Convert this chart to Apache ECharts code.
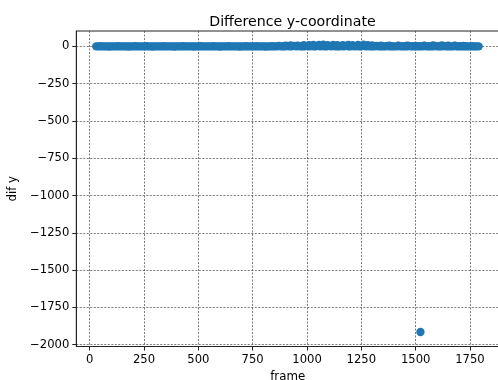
<!DOCTYPE html>
<html>
<head>
<meta charset="utf-8">
<script src="https://cdn.jsdelivr.net/npm/echarts@6/dist/echarts.min.js"></script>
<style>
html,body{margin:0;padding:0;background:#fff;}
#chart{width:498px;height:380px;}
</style>
</head>
<body>
<div id="chart"></div>
<script>
const frames = [
  30,40,50,60,70,80,90,100,110,120,130,140,150,160,170,180,190,200,210,220,
  230,240,250,260,270,280,290,300,310,320,330,340,350,360,370,380,390,400,410,420,
  430,440,450,460,470,480,490,500,510,520,530,540,550,560,570,580,590,600,610,620,
  630,640,650,660,670,680,690,700,710,720,730,740,750,760,770,780,790,800,810,820,
  830,840,850,860,870,880,890,900,910,920,930,940,950,960,970,980,990,1000,1010,1020,
  1030,1040,1050,1060,1070,1080,1090,1100,1110,1120,1130,1140,1150,1160,1170,1180,1190,1200,1210,1220,
  1230,1240,1250,1260,1270,1280,1290,1300,1310,1320,1330,1340,1350,1360,1370,1380,1390,1400,1410,1420,
  1430,1440,1450,1460,1470,1480,1490,1500,1510,1520,1522,1530,1540,1550,1560,1570,1580,1590,1600,1610,1620,
  1630,1640,1650,1660,1670,1680,1690,1700,1710,1720,1730,1740,1750,1760,1770,1780,1790
];
const difY = [
  0,0,1,0,0,0,-1,0,0,0,1,0,0,0,0,-1,0,0,1,0,
  0,0,0,1,0,0,-1,0,0,0,0,1,0,0,0,0,-1,0,0,0,
  1,0,0,0,0,-1,0,0,1,0,0,0,0,0,1,0,0,-1,0,0,
  0,1,0,0,0,0,-1,0,0,1,0,0,0,0,1,0,0,0,-1,0,
  0,1,0,0,2,0,1,0,2,0,1,3,0,2,0,1,0,3,0,2,
  1,0,3,0,2,0,1,3,0,2,0,1,0,2,0,3,0,1,2,0,
  2,0,1,3,0,2,0,1,0,2,0,1,0,0,2,0,1,0,0,2,
  0,1,0,0,2,0,1,0,0,1,-1915,0,2,0,1,0,0,2,0,1,0,
  2,0,1,0,0,2,0,1,0,0,1,0,0,1,0,0,0
];
const bumpFrames = [900,925,955,985,1010,1030,1055,1075,1095,1120,1140,1165,1190,1210,1235,1260,1280,1300,1340,1380,1420,1460,1500,1540,1580,1620,1650,1680,1720];
const bumpY = [4,6,5,8,7,9,10,11,8,9,7,8,10,7,9,11,8,6,4,5,5,4,3,5,6,6,5,4,3];
const xTicks = [0,250,500,750,1000,1250,1500,1750];
const yTicks = [0,-250,-500,-750,-1000,-1250,-1500,-1750,-2000];

const pts = frames.map((f,i)=>[f,difY[i]]);
const bumps = bumpFrames.map((f,i)=>[f,bumpY[i]]);
const minus = v => String(v).replace('-', '\u2212');
const gridLine = {show:true, lineStyle:{color:'#444', width:0.7, type:[2,1.5]}};
const chart = echarts.init(document.getElementById('chart'), null, {renderer:'canvas'});
chart.setOption({
  animation:false,
  backgroundColor:'#fff',
  textStyle:{fontFamily:'DejaVu Sans'},
  title:{text:'Difference y-coordinate', left:287.5, textAlign:'center', top:10,
    textStyle:{fontFamily:'DejaVu Sans', fontSize:14.2, fontWeight:'normal', color:'#000'}},
  grid:{left:76.3, right:-1, top:31, bottom:33.5, show:true, borderColor:'#222', borderWidth:1,
    containLabel:false, outerBoundsMode:'none'},
  xAxis:{type:'value', min:-61.7, max:1883.5,
    name:'frame', nameLocation:'middle', nameGap:24,
    nameTextStyle:{fontFamily:'DejaVu Sans', fontSize:11.8, color:'#000'},
    axisLine:{show:true, onZero:false, lineStyle:{color:'#222', width:1}},
    axisTick:{show:true, length:4, customValues:xTicks, lineStyle:{color:'#222'}},
    axisLabel:{customValues:xTicks, margin:7, fontFamily:'DejaVu Sans', fontSize:11.6, color:'#000', formatter:minus},
    splitLine:Object.assign({customValues:xTicks}, gridLine)},
  yAxis:{type:'value', min:-2012, max:103,
    name:'dif y', nameLocation:'middle', nameGap:53,
    nameTextStyle:{fontFamily:'DejaVu Sans', fontSize:11.8, color:'#000'},
    axisLine:{show:true, onZero:false, lineStyle:{color:'#222', width:1}},
    axisTick:{show:true, length:4, customValues:yTicks, lineStyle:{color:'#222'}},
    axisLabel:{customValues:yTicks, margin:7, fontFamily:'DejaVu Sans', fontSize:11.6, color:'#000', formatter:minus},
    splitLine:Object.assign({customValues:yTicks}, gridLine)},
  series:[
    {type:'scatter', data:bumps, symbolSize:8.4, itemStyle:{color:'#1f77b4', opacity:1}, z:2},
    {type:'scatter', data:pts, symbolSize:8.4, itemStyle:{color:'#1f77b4', opacity:1}, z:3}
  ]
});
</script>
</body>
</html>
